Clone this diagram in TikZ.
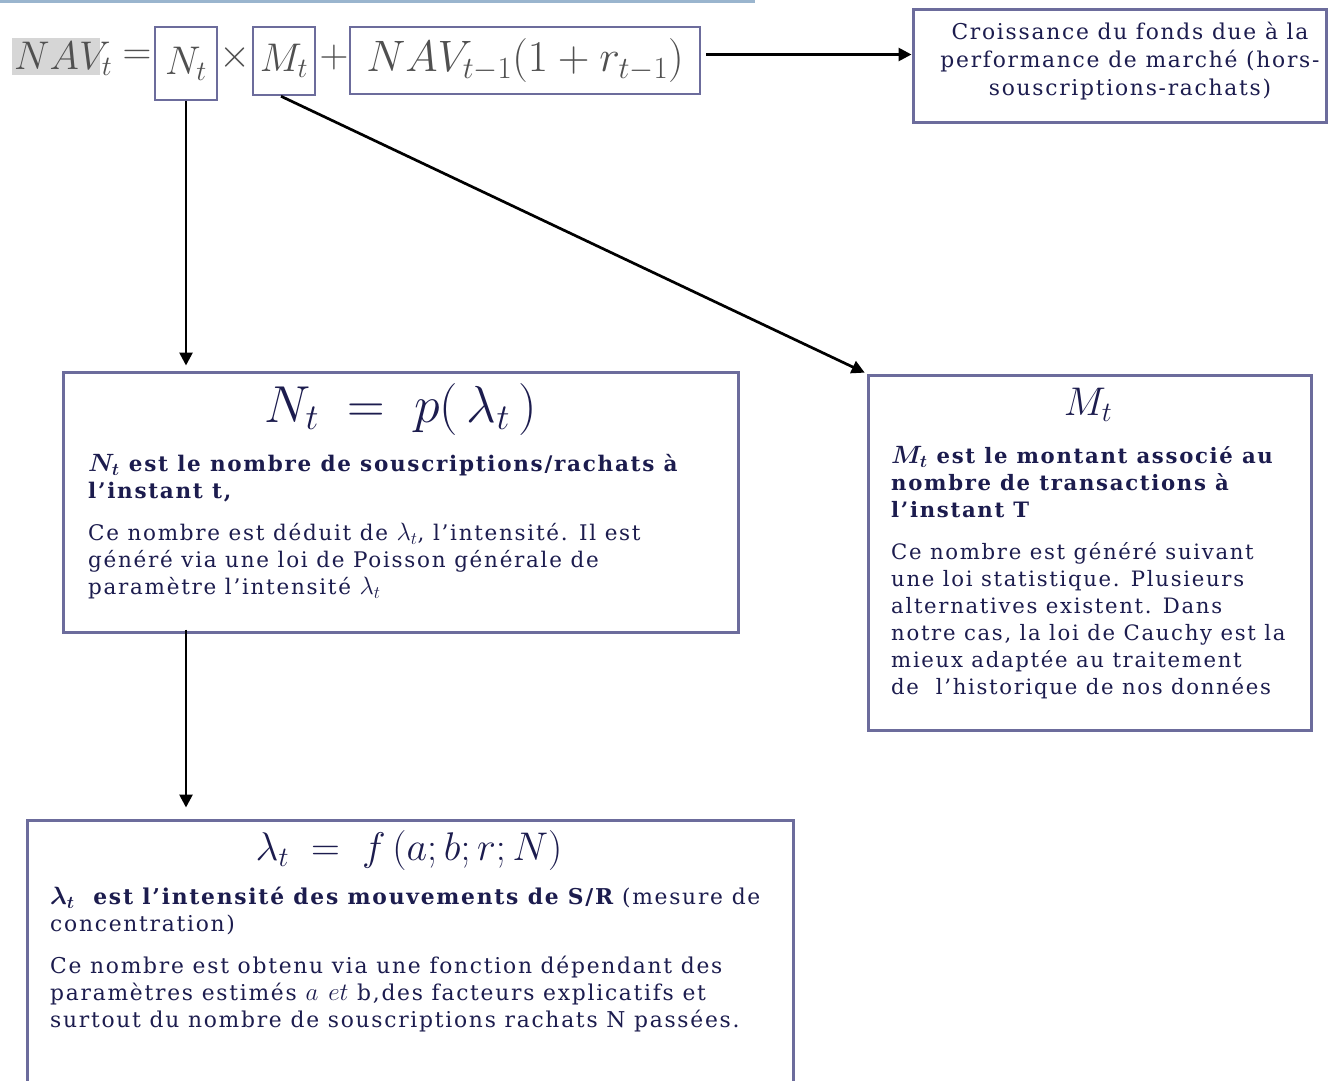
\RequirePackage{fix-cm}
\documentclass[tikz,border=0pt]{standalone}
\usepackage{amsmath,bm}
\usepackage{fontspec}
\setmainfont[LetterSpace=8]{DejaVu Serif}
\usetikzlibrary{arrows.meta}
\definecolor{txtc}{HTML}{1C1C4E}
\definecolor{boxc}{HTML}{6C6C9C}
\definecolor{eqc}{HTML}{505050}
\definecolor{topline}{HTML}{9AB5CE}
\definecolor{hlc}{HTML}{D6D6D6}
\newcommand{\mth}[1]{{\fontsize{25}{27}\selectfont$#1$}}
\begin{document}
\begin{tikzpicture}[x=1pt,y=-1pt,
  frame/.style={draw=boxc, line width=3pt, inner sep=0pt},
  eqbox/.style={draw=boxc, line width=2.5pt, inner sep=0pt, text=eqc, font=\fontsize{40}{44}\selectfont},
  eqtxt/.style={inner sep=0pt, text=eqc, font=\fontsize{40}{44}\selectfont},
  body/.style={inner sep=0pt, text=txtc, align=left, font=\fontsize{21.5}{27}\selectfont},
  arr/.style={draw=black, line width=2.7pt, -{Triangle[length=13pt,width=13pt]}}]
\clip (0,0) rectangle (1328,1081);
\fill[white] (0,0) rectangle (1328,1081);
\fill[topline] (0,0) rectangle (755,3);
% equation
\fill[hlc] (12,38) rectangle (100,75);
\node[eqtxt, anchor=base west] (nav) at (14,70) {$NAV_t$};
\node[eqtxt] (eq) at (137,57) {$=$};
\node[eqbox, minimum width=62pt, minimum height=73pt] (ntb) at (186,63.5) {$N_t$};
\node[eqtxt] (times) at (235,58) {$\times$};
\node[eqbox, minimum width=62pt, minimum height=68pt] (mtb) at (284,61) {$M_t$};
\node[eqtxt] (plus) at (334,58) {$+$};
\node[eqbox, minimum width=350pt, minimum height=67pt, font=\fontsize{44}{48}\selectfont] (navb) at (525,60.5) {$NAV_{t-1}(1+r_{t-1})$};
% top right box
\node[frame, minimum width=413pt, minimum height=112pt] (topb) at (1119.5,66) {};
\node[body, align=center, font=\fontsize{21.8}{28}\selectfont] (toptxt) at (1130,61) {Croissance du fonds due à la\\performance de marché (hors-\\souscriptions-rachats)};
% N box
\node[frame, minimum width=675pt, minimum height=260pt] (nbox) at (400.5,502) {};
\node[inner sep=0pt, text=txtc, font=\fontsize{52}{56}\selectfont] (ntitle) at (401,409) {$N_t\;=\;p(\,\lambda_t\,)$};
\node[body, anchor=north west] (np1) at (88,454) {\bfseries \mth{\bm{N_t}} est le nombre de souscriptions/rachats à\\\bfseries l’instant t,};
\node[body, anchor=north west] (np2) at (88,523) {Ce nombre est déduit de \mth{\lambda_t}, l’intensité. Il est\\généré via une loi de Poisson générale de\\paramètre l’intensité \mth{\lambda_t}};
% M box
\node[frame, minimum width=443pt, minimum height=355pt] (mbox) at (1089.5,552.5) {};
\node[inner sep=0pt, text=txtc, font=\fontsize{40}{44}\selectfont] (mtitle) at (1088,405) {$M_t$};
\node[body, anchor=north west, font=\fontsize{21.2}{27}\selectfont] (mp1) at (891,446) {\bfseries \mth{\bm{M_t}} est le montant associé au\\\bfseries nombre de transactions à\\\bfseries l’instant T};
\node[body, anchor=north west, font=\fontsize{21.2}{27}\selectfont] (mp2) at (891,542) {Ce nombre est généré suivant\\une loi statistique. Plusieurs\\alternatives existent. Dans\\notre cas, la loi de Cauchy est la\\mieux adaptée au traitement\\de\ \ l’historique de nos données};
% lambda box
\node[frame, minimum width=766pt, minimum height=280pt] (lbox) at (410,960) {};
\node[inner sep=0pt, text=txtc, font=\fontsize{40}{44}\selectfont] (ltitle) at (409,850) {$\lambda_t\;=\;f\,(a;b;r;N)$};
\node[body, anchor=north west, font=\fontsize{21.8}{27}\selectfont] (lp1) at (50,887) {{\bfseries \mth{\bm{\lambda_t}}\ \ est\ l’intensité des mouvements de S/R} (mesure de\\concentration)};
\node[body, anchor=north west, font=\fontsize{21.8}{27}\selectfont] (lp2) at (50,956) {Ce nombre est obtenu via une fonction dépendant des\\paramètres estimés \mth{a\ et} b,des facteurs explicatifs et\\surtout du nombre de souscriptions rachats N passées.};
% connectors
\draw[arr] ([xshift=5pt,yshift=6pt]navb.east) -- ([yshift=6pt]navb.east -| topb.west);
\draw[arr, shorten >=5pt] (ntb.south) -- (ntb.south |- nbox.north);
\draw[arr, shorten >=2pt] ([xshift=-3pt]mtb.south) -- (mbox.north west);
\draw[arr, shorten >=11pt] ([yshift=4pt]nbox.south -| ntb.south) -- (lbox.north -| ntb.south);
\end{tikzpicture}
\end{document}
